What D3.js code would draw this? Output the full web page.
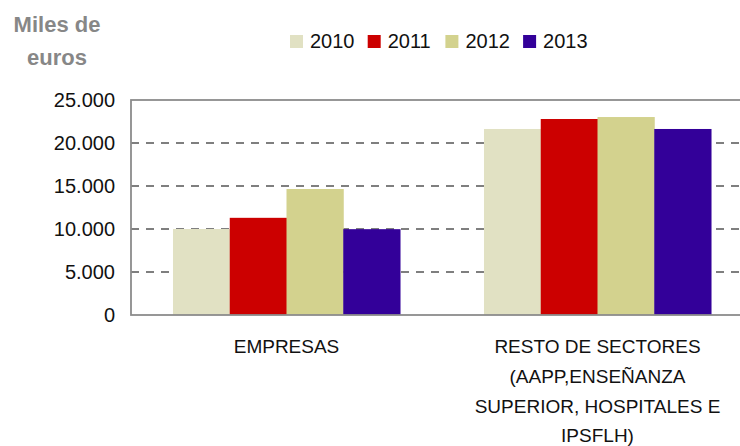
<!DOCTYPE html>
<html>
<head>
<meta charset="utf-8">
<script src="https://cdn.jsdelivr.net/npm/d3@7"></script>
<style>
  body { margin: 0; background: #fff; }
  svg { display: block; font-family: "Liberation Sans", Arial, sans-serif; }
</style>
</head>
<body>
<div id="chart"></div>
<script>
// data
const categories = ['EMPRESAS', 'RESTO DE SECTORES (AAPP,ENSEÑANZA SUPERIOR, HOSPITALES E IPSFLH)'];
const categoryLines = [
  ['EMPRESAS'],
  ['RESTO DE SECTORES', '(AAPP,ENSEÑANZA', 'SUPERIOR, HOSPITALES E', 'IPSFLH)']
];
const years = ['2010', '2011', '2012', '2013'];
const empresas = [10000, 11300, 14650, 9980];
const resto = [21630, 22790, 23020, 21630];
const yTicks = [0, 5000, 10000, 15000, 20000, 25000];
const colors = ['#e1e1c3', '#cc0000', '#d3d28e', '#330099'];

const seriesByCategory = [empresas, resto];

const width = 740,
      height = 446,
      margins = { top: 100, right: -13, bottom: 131, left: 131 };

const innerW = width - margins.left - margins.right;
const innerH = height - margins.top - margins.bottom;

const svg = d3.select('#chart').append('svg')
  .attr('width', width)
  .attr('height', height)
  .style('overflow', 'hidden');

const g = svg.append('g')
  .attr('transform', `translate(${margins.left}, ${margins.top})`);

const x0 = d3.scaleBand()
  .domain(categories)
  .range([0, innerW])
  .paddingInner(0.27)
  .paddingOuter(0.135);

const x1 = d3.scaleBand()
  .domain(years)
  .range([0, x0.bandwidth()]);

const y = d3.scaleLinear()
  .domain([0, 25000])
  .range([innerH, 0]);

const fmt = d => d3.format(',')(d).replace(/,/g, '.');

// dashed gridlines
g.selectAll('.grid')
  .data(yTicks.filter(d => d > 0 && d < 25000))
  .enter()
  .append('line')
  .attr('x1', 0)
  .attr('x2', innerW)
  .attr('y1', d => y(d))
  .attr('y2', d => y(d))
  .attr('stroke', '#555')
  .attr('stroke-width', 1.5)
  .attr('stroke-dasharray', '8,7');

// bars
const groups = g.selectAll('.cat')
  .data(categories)
  .enter()
  .append('g')
  .attr('transform', d => `translate(${x0(d)},0)`);

groups.selectAll('rect')
  .data((d, i) => years.map((yr, j) => ({ yr, v: seriesByCategory[i][j], c: colors[j] })))
  .enter()
  .append('rect')
  .attr('x', d => x1(d.yr))
  .attr('width', x1.bandwidth() + 0.5)
  .attr('y', d => y(d.v))
  .attr('height', d => innerH - y(d.v))
  .attr('fill', d => d.c);

// frame
g.append('rect')
  .attr('x', 0)
  .attr('y', 0)
  .attr('width', innerW)
  .attr('height', innerH)
  .attr('fill', 'none')
  .attr('stroke', '#8c8c8c')
  .attr('stroke-width', 1.8);

// y axis labels
const yAxis = d3.axisLeft(y)
  .tickValues(yTicks)
  .tickSize(0)
  .tickPadding(16)
  .tickFormat(fmt);

g.append('g')
  .call(yAxis)
  .call(s => s.select('.domain').remove())
  .selectAll('text')
  .attr('fill', '#111')
  .style('font-size', '20px')
  .style('font-family', '"Liberation Sans", Arial, sans-serif');

// category labels
const catLabels = g.selectAll('.cat-label')
  .data(categories)
  .enter()
  .append('text')
  .attr('text-anchor', 'middle')
  .attr('fill', '#111')
  .style('font-size', '19px')
  .attr('transform', d => `translate(${x0(d) + x0.bandwidth() / 2},${innerH + 38})`);

catLabels.selectAll('tspan')
  .data((d, i) => categoryLines[i])
  .enter()
  .append('tspan')
  .attr('x', 0)
  .attr('y', (d, i) => i * 29.8)
  .text(d => d);

// y title
svg.append('text')
  .attr('text-anchor', 'middle')
  .attr('fill', '#878787')
  .style('font-size', '22px')
  .style('font-weight', 'bold')
  .selectAll('tspan')
  .data(['Miles de', 'euros'])
  .enter()
  .append('tspan')
  .attr('x', 57)
  .attr('y', (d, i) => 32 + i * 33)
  .text(d => d);

// legend
const legend = svg.append('g')
  .attr('transform', 'translate(290, 35)');

const items = legend.selectAll('.item')
  .data(years)
  .enter()
  .append('g')
  .attr('transform', (d, i) => `translate(${i * 77.7},0)`);

items.append('rect')
  .attr('width', 13)
  .attr('height', 13)
  .attr('fill', (d, i) => colors[i]);

items.append('text')
  .attr('x', 20)
  .attr('y', 12.5)
  .attr('fill', '#111')
  .style('font-size', '20px')
  .text(d => d);
</script>
</body>
</html>
